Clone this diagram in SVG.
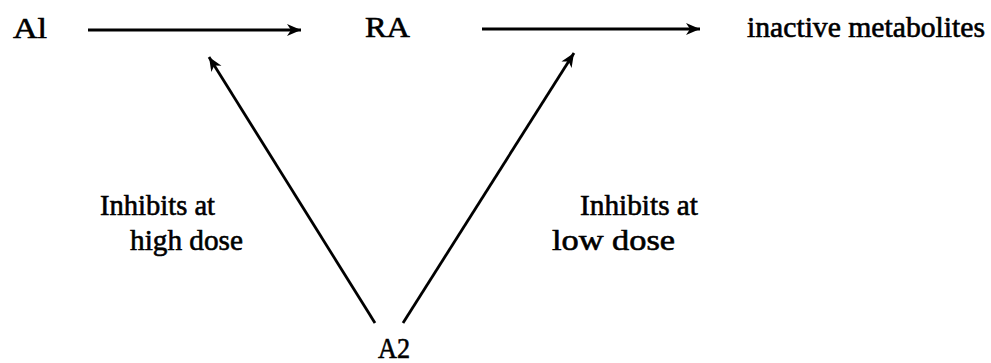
<svg xmlns="http://www.w3.org/2000/svg" width="991" height="363" viewBox="0 0 991 363">
  <style>
    text { font-family: "Liberation Serif", "Times New Roman", serif; font-size: 29px; fill: #000; stroke: #000; stroke-width: 0.6px; }
    .edge { stroke: #000; stroke-width: 2.8; fill: none; }
  </style>
  <defs>
    <marker id="arrow" markerUnits="userSpaceOnUse" markerWidth="16" markerHeight="14" refX="14" refY="7" orient="auto">
      <path d="M0,1 L14,7 L0,13 L4,7 Z" fill="#000"/>
    </marker>
  </defs>
  <rect width="991" height="363" fill="#fff"/>
  <g id="connectors">
    <line class="edge" x1="88" y1="30" x2="301" y2="30" marker-end="url(#arrow)"/>
    <line class="edge" x1="482" y1="29" x2="700" y2="29" marker-end="url(#arrow)"/>
    <line class="edge" x1="375" y1="323" x2="209" y2="57" marker-end="url(#arrow)"/>
    <line class="edge" x1="403" y1="323" x2="574" y2="53" marker-end="url(#arrow)"/>
  </g>
  <g id="node-A1"><text x="13" y="38" textLength="34" lengthAdjust="spacingAndGlyphs">Al</text></g>
  <g id="node-RA"><text x="365" y="37" textLength="45" lengthAdjust="spacingAndGlyphs">RA</text></g>
  <g id="node-inactive"><text x="747" y="37" textLength="238" lengthAdjust="spacingAndGlyphs">inactive metabolites</text></g>
  <g id="node-A2"><text x="378" y="358" textLength="32" lengthAdjust="spacingAndGlyphs">A2</text></g>
  <g id="label-high">
    <text x="100" y="215" textLength="115" lengthAdjust="spacingAndGlyphs">Inhibits at</text>
    <text x="130" y="250" textLength="113" lengthAdjust="spacingAndGlyphs">high dose</text>
  </g>
  <g id="label-low">
    <text x="580" y="215" textLength="118" lengthAdjust="spacingAndGlyphs">Inhibits at</text>
    <text x="552" y="250" textLength="123" lengthAdjust="spacingAndGlyphs">low dose</text>
  </g>
</svg>
